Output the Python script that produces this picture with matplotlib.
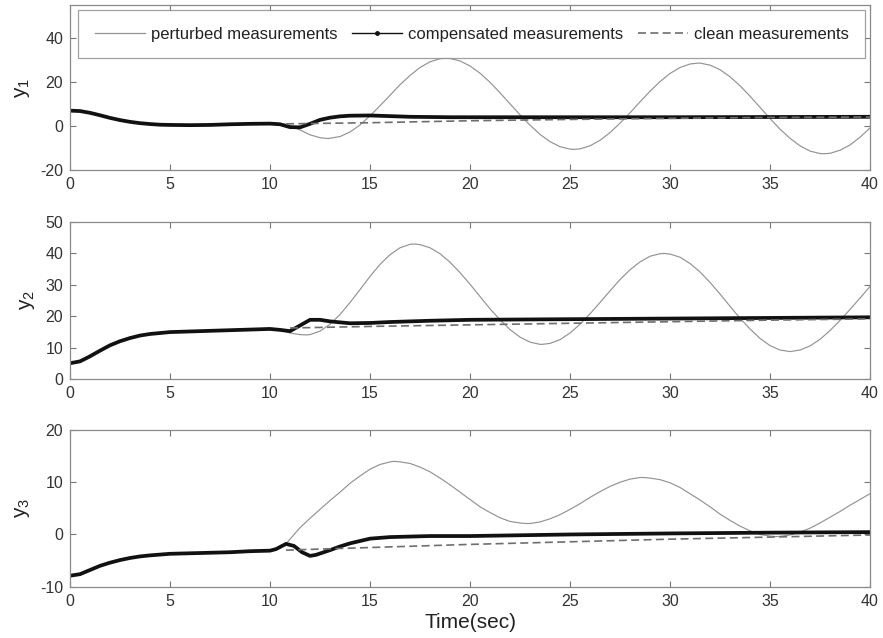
import numpy as np
import matplotlib.pyplot as plt
from matplotlib.lines import Line2D

plt.rcParams['font.family'] = ['Liberation Sans', 'DejaVu Sans']
plt.rcParams['mathtext.default'] = 'regular'
plt.rcParams['axes.unicode_minus'] = False

# ---- y1 ----
t_comp1 = [0, 0.5, 1, 1.5, 2, 2.5, 3, 3.5, 4, 4.5, 5, 6, 7, 8, 9, 10, 10.5, 11, 11.5,
           12, 12.5, 13, 13.5, 14, 15, 16, 17, 19, 20, 25, 30, 35, 40]
y_comp1 = [7.0, 6.8, 6.0, 4.9, 3.7, 2.7, 1.9, 1.3, 0.9, 0.6, 0.5, 0.4, 0.5, 0.8, 1.0, 1.1, 0.8, -0.5, -0.6,
           1.0, 2.8, 3.8, 4.4, 4.7, 4.8, 4.5, 4.2, 4.0, 4.0, 4.0, 4.0, 4.1, 4.2]
t_clean1 = [10.8, 15, 20, 25, 30, 35, 40]
y_clean1 = [1.0, 1.5, 2.4, 3.0, 3.5, 3.9, 4.1]
t_pert1 = [10.7, 11, 11.5, 12, 12.5, 12.9, 13.5, 14, 14.5, 15, 15.5, 16, 16.5, 17, 17.5, 18, 18.5, 18.8,
           19, 19.5, 20, 20.5, 21, 21.5, 22, 22.5, 23, 23.5, 24, 24.5, 25, 25.2,
           25.5, 26, 26.5, 27, 27.5, 28, 28.5, 29, 29.5, 30, 30.5, 31, 31.4,
           31.5, 32, 32.5, 33, 33.5, 34, 34.5, 35, 35.5, 36, 36.5, 37, 37.5, 37.7,
           38, 38.5, 39, 39.5, 40]
y_pert1 = [0.9, 0.2, -1.8, -4.0, -5.3, -5.7, -4.8, -2.7, 0.5, 4.6, 9.2, 14.0, 18.8, 23.0, 26.6, 29.2, 30.6, 30.8,
           30.7, 29.6, 27.3, 24.0, 19.9, 15.1, 10.1, 5.1, 0.4, -3.8, -7.1, -9.4, -10.5, -10.6,
           -10.4, -9.0, -6.5, -3.0, 1.3, 6.0, 11.0, 15.8, 20.2, 23.9, 26.6, 28.2, 28.6,
           28.6, 27.7, 25.6, 22.4, 18.3, 13.6, 8.5, 3.4, -1.4, -5.6, -9.0, -11.4, -12.5, -12.6,
           -12.4, -11.0, -8.6, -5.1, -0.9]

# ---- y2 ----
t_comp2 = [0, 0.5, 1, 1.5, 2, 2.5, 3, 3.5, 4, 4.5, 5, 6, 7, 8, 9, 10, 10.5, 11, 11.5,
           12, 12.5, 13, 14, 15, 16, 18, 20, 25, 30, 35, 40]
y_comp2 = [5.0, 5.6, 7.2, 9.0, 10.7, 12.0, 13.0, 13.8, 14.3, 14.6, 14.9, 15.1, 15.3, 15.5, 15.7, 15.9, 15.6, 15.2, 17.0,
           18.8, 18.8, 18.3, 17.7, 17.8, 18.1, 18.5, 18.8, 19.0, 19.2, 19.4, 19.6]
t_clean2 = [11, 15, 20, 25, 30, 35, 40]
y_clean2 = [16.2, 16.7, 17.2, 17.7, 18.2, 18.7, 19.1]
t_pert2 = [10.5, 11, 11.5, 11.8, 12, 12.5, 13, 13.5, 14, 14.5, 15, 15.5, 16, 16.5, 17, 17.2,
           17.5, 18, 18.5, 19, 19.5, 20, 20.5, 21, 21.5, 22, 22.5, 23, 23.5, 23.6,
           24, 24.5, 25, 25.5, 26, 26.5, 27, 27.5, 28, 28.5, 29, 29.5, 29.7,
           30, 30.5, 31, 31.5, 32, 32.5, 33, 33.5, 34, 34.5, 35, 35.5, 36,
           36.5, 37, 37.5, 38, 38.5, 39, 39.5, 40]
y_pert2 = [15.6, 14.6, 14.1, 14.0, 14.1, 15.2, 17.4, 20.5, 24.3, 28.4, 32.6, 36.4, 39.5, 41.7, 42.8, 42.9,
           42.7, 41.7, 39.8, 37.1, 33.8, 30.1, 26.2, 22.3, 18.8, 15.7, 13.3, 11.7, 11.0, 11.0,
           11.3, 12.5, 14.6, 17.4, 20.7, 24.3, 28.0, 31.6, 34.7, 37.2, 39.0, 39.8, 39.9,
           39.7, 38.7, 36.7, 34.0, 30.7, 27.0, 23.1, 19.3, 15.9, 12.9, 10.6, 9.2, 8.7,
           9.2, 10.5, 12.6, 15.4, 18.6, 22.1, 25.7, 29.4]

# ---- y3 ----
t_comp3 = [0, 0.5, 1, 1.5, 2, 2.5, 3, 3.5, 4, 5, 6, 7, 8, 9, 10, 10.3, 10.8, 11.2, 11.6,
           12, 12.3, 13, 13.5, 14, 15, 16, 18, 20, 25, 30, 35, 40]
y_comp3 = [-7.9, -7.6, -6.8, -6.0, -5.4, -4.9, -4.5, -4.2, -4.0, -3.7, -3.6, -3.5, -3.4, -3.2, -3.1, -2.8, -1.8, -2.2, -3.4,
           -4.1, -3.9, -3.0, -2.3, -1.7, -0.8, -0.5, -0.3, -0.3, 0.0, 0.2, 0.35, 0.45]
t_clean3 = [10.8, 15, 20, 25, 30, 35, 40]
y_clean3 = [-3.0, -2.5, -1.9, -1.4, -0.9, -0.5, -0.1]
t_pert3 = [10.8, 11, 11.5, 12, 12.5, 13, 13.5, 14, 14.5, 15, 15.5, 16, 16.2,
           16.5, 17, 17.5, 18, 18.5, 19, 19.5, 20, 20.5, 21, 21.5, 22, 22.5, 22.8,
           23, 23.5, 24, 24.5, 25, 25.5, 26, 26.5, 27, 27.5, 28, 28.5, 28.7,
           29, 29.5, 30, 30.5, 31, 31.5, 32, 32.5, 33, 33.5, 34, 34.5, 35, 35.3,
           35.5, 36, 36.5, 37, 37.5, 38, 38.5, 39, 39.5, 40]
y_pert3 = [-1.8, -0.9, 1.3, 3.1, 4.8, 6.5, 8.1, 9.8, 11.2, 12.5, 13.4, 13.9, 14.0,
           13.9, 13.6, 12.9, 12.0, 10.8, 9.5, 8.1, 6.7, 5.3, 4.2, 3.2, 2.5, 2.2, 2.1,
           2.1, 2.4, 3.0, 3.8, 4.8, 5.9, 7.1, 8.2, 9.2, 10.0, 10.6, 10.9, 10.9,
           10.8, 10.5, 9.9, 9.0, 7.8, 6.6, 5.3, 3.9, 2.7, 1.6, 0.7, 0.0, -0.3, -0.4,
           -0.35, -0.1, 0.45, 1.2, 2.2, 3.3, 4.4, 5.6, 6.7, 7.8]

panels = [
    ('y$_1$', (-20, 55), [-20, 0, 20, 40], t_pert1, y_pert1, t_comp1, y_comp1, t_clean1, y_clean1),
    ('y$_2$', (0, 50), [0, 10, 20, 30, 40, 50], t_pert2, y_pert2, t_comp2, y_comp2, t_clean2, y_clean2),
    ('y$_3$', (-10, 20), [-10, 0, 10, 20], t_pert3, y_pert3, t_comp3, y_comp3, t_clean3, y_clean3),
]
# axes boxes in figure fractions: left, bottom, width, height
boxes = [[0.0793, 0.7335, 0.906, 0.2586],
         [0.0793, 0.4060, 0.906, 0.2466],
         [0.0793, 0.0804, 0.906, 0.2456]]

fig = plt.figure(figsize=(8.83, 6.38), dpi=100)
axes = []
for box, (lab, ylim, yt, tp, yp, tc, yc, tl, yl) in zip(boxes, panels):
    ax = fig.add_axes(box)
    ax.plot(tp, yp, color='#939393', lw=0.85)
    ax.plot(tc, yc, color='#111111', lw=2.7, solid_capstyle='round', solid_joinstyle='round')
    ax.plot(tl, yl, color='#6e6e6e', lw=1.2, dashes=(4.8, 2.6))
    ax.set_xlim(0, 40)
    ax.set_ylim(*ylim)
    ax.set_xticks(range(0, 41, 5))
    ax.set_yticks(yt)
    ax.set_ylabel(lab, fontsize=15, color='#222222', labelpad=6)
    ax.tick_params(direction='in', top=True, right=True, length=4, width=0.8,
                   color='#777777', labelcolor='#333333', labelsize=11.5, pad=5)
    for sp in ax.spines.values():
        sp.set_color('#8a8a8a')
        sp.set_linewidth(0.9)
    axes.append(ax)

axes[2].set_xlabel('Time(sec)', fontsize=15, color='#222222', labelpad=3)

handles = [Line2D([], [], color='#939393', lw=0.9),
           Line2D([], [], color='#111111', lw=1.0, marker='.', ms=5),
           Line2D([], [], color='#6e6e6e', lw=1.2, dashes=(4.8, 2.6))]
labels = ['perturbed measurements', 'compensated measurements', 'clean measurements']
leg = axes[0].legend(handles, labels, ncol=3, loc='upper left',
                     bbox_to_anchor=(0.01, 0.0, 0.984, 0.97), mode='expand',
                     fontsize=12, frameon=True, fancybox=False, edgecolor='#8a8a8a',
                     handlelength=3.0, handletextpad=0.35, columnspacing=1.0,
                     borderpad=1.0, borderaxespad=0.0)
leg.get_frame().set_linewidth(0.9)
for txt in leg.get_texts():
    txt.set_color('#222222')

fig.savefig('out.png', dpi=100)
